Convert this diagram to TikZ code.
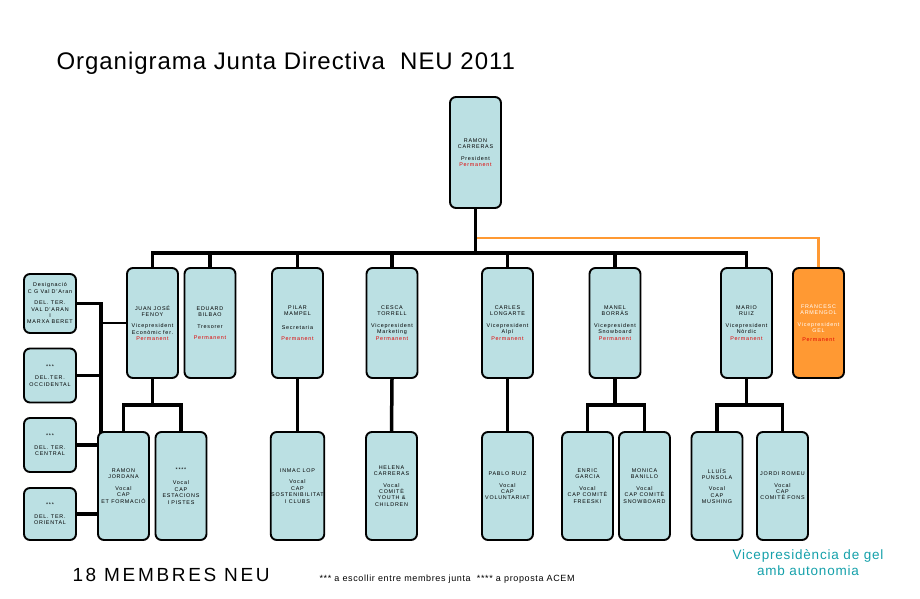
\documentclass[tikz,border=0pt]{standalone}
\usepackage{fontspec}
\setmainfont{Liberation Sans}
\usetikzlibrary{positioning}
\definecolor{boxblue}{RGB}{187,224,227}
\definecolor{gelorange}{RGB}{255,153,51}
\definecolor{gelteal}{RGB}{20,160,170}
\definecolor{permred}{RGB}{225,0,0}
\newcommand{\perm}{\textcolor{permred}{Permanent}}

\begin{document}
\begin{tikzpicture}[x=1pt,y=-1pt,
	card/.style={draw,line width=1.9pt,rounded corners=6pt,fill=boxblue,minimum width=51pt,minimum height=110pt,
		align=center,inner sep=0.5pt,font=\fontsize{5.4}{6.4}\selectfont\addfontfeature{LetterSpace=14}},
	delbox/.style={card,minimum width=52pt,minimum height=54pt},
	link/.style={line width=3.5pt,line join=miter}]
	\useasboundingbox (0,0) rectangle (920,599);

	\node[anchor=base west,font=\fontsize{24}{27}\selectfont\addfontfeature{LetterSpace=4}] (title) at (53,70){Organigrama Junta Directiva\ \ NEU 2011};

	\node[card,minimum height=111pt] (pres) at (475.5,152.5){RAMON\\CARRERAS\\[5pt]President\\\perm};

		\node[card] (juan) at (152.5,323){JUAN JOSÉ\\FENOY\\[5pt]Vicepresident\\Econòmic fer.\\\perm};
		\node[card] (eduard) at (210,323){EDUARD\\BILBAO\\[5pt]Tresorer\\[5pt]\perm};
		\node[card] (pilar) at (297.5,323){PILAR\\MAMPEL\\[7pt]Secretaria\\[5pt]\perm};
		\node[card] (cesca) at (392,323){CESCA\\TORRELL\\[5pt]Vicepresident\\Marketing\\\perm};
		\node[card] (carles) at (507.5,323){CARLES\\LONGARTE\\[5pt]Vicepresident\\Alpí\\\perm};
		\node[card] (manel) at (615,323){MANEL\\BORRÀS\\[5pt]Vicepresident\\Snowboard\\\perm};
		\node[card] (mario) at (746.5,323){MARIO\\RUIZ\\[5pt]Vicepresident\\Nòrdic\\\perm};
		\node[card,fill=gelorange,text=white] (francesc) at (818.5,323){FRANCESC\\ARMENGOL\\[5pt]Vicepresident\\GEL\\[2pt]\perm};

		\node[delbox,minimum height=59pt] (desig) at (50,303.5){Designació\\C G Val D'Aran\\[5pt]DEL. TER.\\VAL D'ARAN\\I\\MARXA BERET};
		\node[delbox] (occ) at (50,375.5){***\\[5pt]DEL.TER.\\OCCIDENTAL};
		\node[delbox] (central) at (50,445){***\\[5pt]DEL. TER.\\CENTRAL};
		\node[delbox,minimum height=52pt] (oriental) at (50,514){***\\[5pt]DEL. TER.\\ORIENTAL};

		\node[card,minimum height=108pt] (ramonj) at (123.5,486){RAMON\\JORDANA\\[5pt]Vocal\\CAP\\ET FORMACIÓ};
		\node[card,minimum height=108pt] (estac) at (181,486){****\\[7pt]Vocal\\CAP\\ESTACIONS\\I PISTES};
		\node[card,minimum height=108pt] (inmac) at (297.5,486){INMAC LOP\\[5pt]Vocal\\CAP\\SOSTENIBILITAT\\I CLUBS};
		\node[card,minimum height=108pt] (helena) at (391.5,486){HELENA\\CARRERAS\\[5pt]Vocal\\COMITÈ\\YOUTH \&\\CHILDREN};
		\node[card,minimum height=108pt] (pablo) at (507.5,486){PABLO RUIZ\\[5pt]Vocal\\CAP\\VOLUNTARIAT};
		\node[card,minimum height=108pt] (enric) at (587.5,486){ENRIC\\GARCIA\\[5pt]Vocal\\CAP COMITÈ\\FREESKI};
		\node[card,minimum height=108pt] (monica) at (644.5,486){MONICA\\BANILLO\\[5pt]Vocal\\CAP COMITÈ\\SNOWBOARD};
		\node[card,minimum height=108pt] (lluis) at (717,486){LLUÍS\\PUNSOLA\\[5pt]Vocal\\CAP\\MUSHING};
		\node[card,minimum height=108pt] (jordi) at (782.5,486){JORDI ROMEU\\[5pt]Vocal\\CAP\\COMITÈ FONS};

	\draw[line width=2.5pt,gelorange] (pres.south) -- ++(0,29) -| (francesc.north);
	\foreach \n in {juan,eduard,pilar,cesca,carles,manel,mario}
		\draw[link] (pres.south) -- ++(0,44) -| (\n.north);
	\foreach \p/\c in {juan/ramonj,juan/estac,manel/enric,manel/monica,mario/lluis,mario/jordi}
		\draw[link] (\p.south) -- ++(0,26) -| (\c.north);
	\foreach \p/\c in {pilar/inmac,cesca/helena,carles/pablo}
		\draw[link] (\p.south) -- (\c.north);

	\coordinate (lv) at (101,433);
	\draw[link] (desig.east) -| (lv);
	\draw[link] (occ.east) -- (occ.east -| lv);
	\draw[link,line width=2.5pt] (juan.west) -- (juan.west -| lv);
	\draw[link] (central.east) -- (central.east -| ramonj.west);
	\draw[link] (oriental.east) -- (oriental.east -| ramonj.west);

	\node[anchor=base west,font=\fontsize{19}{22}\selectfont\addfontfeature{LetterSpace=14}] (members) at (69,581){18 MEMBRES NEU};
	\node[anchor=base west,font=\fontsize{9}{10}\selectfont\addfontfeature{LetterSpace=7}] (note) at (316,581){*** a escollir entre membres junta\ \ **** a proposta ACEM};
	\node[anchor=north,align=center,text=gelteal,font=\fontsize{13.5}{16}\selectfont\addfontfeature{LetterSpace=6}] (autonomia) at (808,546){Vicepresidència de gel\\amb autonomia};
\end{tikzpicture}
\end{document}
